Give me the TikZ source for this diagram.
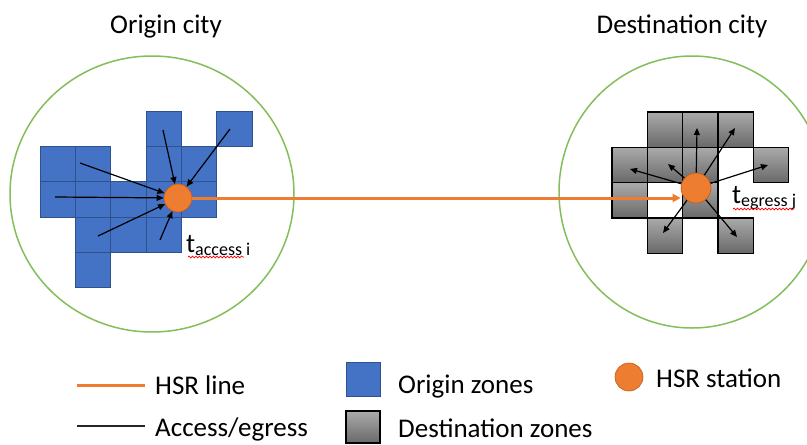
\documentclass[tikz,border=0pt]{standalone}
\usepackage{fontspec}
\setmainfont{Carlito}
\usetikzlibrary{arrows.meta,calc,decorations.pathmorphing}
\definecolor{zoneblue}{RGB}{68,114,196}
\definecolor{zoneedge}{RGB}{47,82,143}
\definecolor{hsrorange}{RGB}{237,125,49}
\definecolor{hsredge}{RGB}{197,90,17}
\definecolor{citygreen}{RGB}{130,190,90}
\definecolor{graytop}{RGB}{170,170,170}
\definecolor{graybot}{RGB}{105,105,105}
\tikzstyle{city} = [draw=citygreen, line width=1.5pt]
\tikzstyle{ozone} = [fill=zoneblue, draw=zoneedge, line width=0.6pt]
\tikzstyle{dzone} = [top color=graytop, bottom color=graybot, draw=black, line width=1.3pt]
\tikzstyle{station} = [circle, fill=hsrorange, draw=hsredge, line width=0.6pt, inner sep=0pt]
\tikzstyle{hsr} = [-{Triangle[length=8pt,width=8pt]}, draw=hsrorange, line width=3pt]
\tikzstyle{acc} = [-{Triangle[length=7pt,width=6pt]}, line width=1.2pt]
\tikzstyle{txt} = [font=\fontsize{27}{32}\selectfont, inner sep=0pt, anchor=base west]
\tikzstyle{wavy} = [draw=red, line width=0.7pt, decorate,
	decoration={snake, amplitude=0.9pt, segment length=3.5pt}]
\newcommand{\sub}[1]{\raisebox{-3pt}{\fontsize{18}{20}\selectfont #1}}

\begin{document}
\begin{tikzpicture}[x=1pt, y=-1pt]
	\useasboundingbox (0,0) rectangle (807,445);
	\def\cs{35.3}
	
	% cities
	\node[txt, anchor=base] (otitle) at (166,33) {Origin city};
	\node[txt, anchor=base] (dtitle) at (682,33) {Destination city};
	\draw[city] (152,194) ellipse [x radius=142pt, y radius=138pt];
	\draw[city] (692,192) ellipse [x radius=133pt, y radius=136pt];
	
	% zones
	\foreach \c/\r in {3/0,5/0,0/1,1/1,3/1,4/1,0/2,1/2,2/2,3/2,4/2,1/3,2/3,3/3,1/4}
		\draw[ozone] ({40+\c*\cs},{111+\r*\cs}) rectangle ++(\cs,\cs);
	\foreach \c/\r in {1/0,2/0,3/0,0/1,1/1,2/1,4/1,0/2,2/2,1/3,3/3}
		\draw[dzone] ({612+\c*\cs},{112+\r*\cs}) rectangle ++(\cs,\cs);
	
	% stations
	\node[station, minimum size=28pt] (ls) at (178,198) {};
	\node[station, minimum size=30pt] (rs) at (696,188) {};
	\draw[hsr] (ls.east) -- (ls.east -| rs.west);
	
	% access / egress
	\foreach \x/\y [count=\i] in {80/163,55/197,98/236,160/240,163/130,230/129} {
		\coordinate (o\i) at (\x,\y);
		\draw[acc] (o\i) -- (ls);
	}
	\foreach \x/\y [count=\i] in {697/128,735/128,630/169,668/164,768/165,663/233,737/237} {
		\coordinate (d\i) at (\x,\y);
		\draw[acc] (rs) -- (d\i);
	}
	\node[txt] (tacc) at (186,252) {t\sub{access i}};
	\draw[wavy] (188,257) -- (244,257);
	\node[txt] (tegr) at (732,203) {t\sub{egress j}};
	\draw[wavy] (733,209) -- (794,209);
	
	% legend
	\draw[hsrorange, line width=3pt] (77,385) -- (145,385);
	\node[txt] (lhsr) at (155,394) {HSR line};
	\draw[line width=1.2pt, black!85] (77,426) -- (145,426);
	\node[txt] (lacc) at (155,436) {Access/egress};
	\node[ozone, minimum size=34pt, inner sep=0pt] (lorig) at (363,379.5) {};
	\node[txt] (lorigt) at (398,393) {Origin zones};
	\node[dzone, minimum width=34pt, minimum height=32pt, inner sep=0pt] (ldest) at (363,427) {};
	\node[txt] (ldestt) at (398,437) {Destination zones};
	\node[station, minimum size=28pt] (lsta) at (629,377) {};
	\node[txt] (lstat) at (656,387) {HSR station};
\end{tikzpicture}
\end{document}
